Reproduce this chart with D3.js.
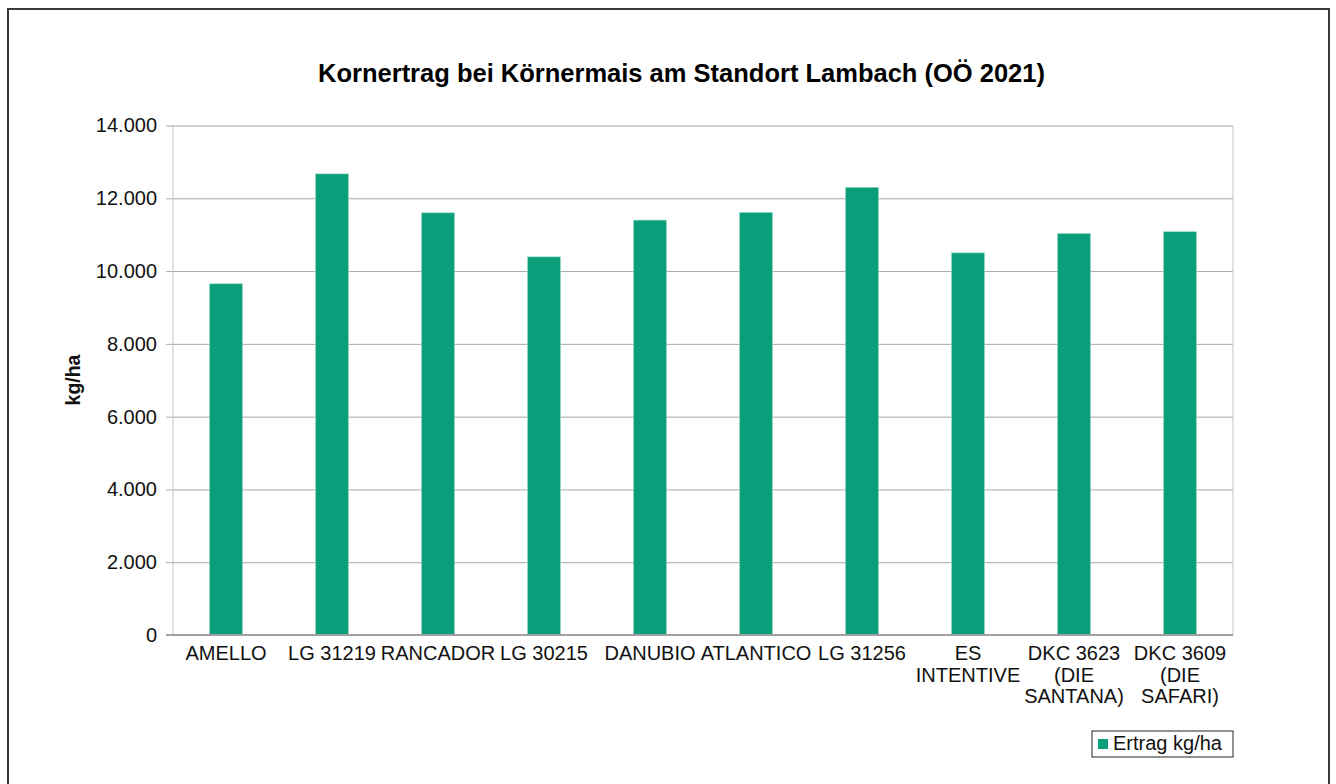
<!DOCTYPE html>
<html>
<head>
<meta charset="utf-8">
<script src="https://cdn.jsdelivr.net/npm/d3@7"></script>
<style>
  body { margin: 0; background: #fff; }
  svg { display: block; font-family: "Liberation Sans", Arial, sans-serif; }
</style>
</head>
<body>
<svg width="1336" height="784"></svg>
<script>
// values
var sorten = [
  ['AMELLO'], ['LG 31219'], ['RANCADOR'], ['LG 30215'], ['DANUBIO'],
  ['ATLANTICO'], ['LG 31256'], ['ES', 'INTENTIVE'],
  ['DKC 3623', '(DIE', 'SANTANA)'], ['DKC 3609', '(DIE', 'SAFARI)']
]
var ertrag = [9650, 12670, 11600, 10390, 11400, 11610, 12300, 10500, 11030, 11080]
var yTicks = [0, 2000, 4000, 6000, 8000, 10000, 12000, 14000]

var svg = d3.select('svg')
var margin = { top: 125.5, right: 103, bottom: 149, left: 173 }
var width = Number(svg.attr('width')) - margin.left - margin.right
var height = Number(svg.attr('height')) - margin.top - margin.bottom

// outer frame
svg.append('rect')
  .attr('x', 8).attr('y', 9)
  .attr('width', 1321).attr('height', 790)
  .attr('fill', 'none')
  .attr('stroke', '#3a3a3a')
  .attr('stroke-width', 2)

svg.append('text')
  .attr('x', 681.5).attr('y', 82)
  .attr('text-anchor', 'middle')
  .attr('font-size', 25.5)
  .attr('font-weight', 'bold')
  .attr('fill', '#000')
  .text('Kornertrag bei Körnermais am Standort Lambach (OÖ 2021)')

var g = svg.append('g')
  .attr('transform', 'translate(' + margin.left + ',' + margin.top + ')')

var x = d3.scaleBand()
  .domain(d3.range(ertrag.length))
  .range([0, width])
  .paddingInner(0.69)
  .paddingOuter(0.345)
var y = d3.scaleLinear().domain([0, 14000]).range([height, 0])

var fmt = function (d) { return d === 0 ? '0' : d3.format(',')(d).replace(/,/g, '.') }

// grid + y axis
var ya = g.append('g')
  .call(d3.axisLeft(y).tickValues(yTicks).tickFormat(fmt).tickSize(-width - 7).tickPadding(9))
ya.select('.domain').remove()
ya.selectAll('.tick line')
  .attr('x1', -7)
  .attr('x2', width)
  .attr('stroke', '#a8a8a8')
ya.selectAll('.tick text')
  .attr('x', -16)
  .attr('font-size', 20)
  .attr('fill', '#111')
  .attr('font-family', '"Liberation Sans", Arial, sans-serif')

// plot border (left/right light)
g.append('line').attr('x1', 0).attr('x2', 0).attr('y1', 0).attr('y2', height)
  .attr('stroke', '#c4c4c4')
g.append('line').attr('x1', width).attr('x2', width).attr('y1', 0).attr('y2', height)
  .attr('stroke', '#c4c4c4')

g.selectAll('rect.bar')
  .data(ertrag)
  .enter().append('rect')
  .attr('class', 'bar')
  .attr('x', function (d, i) { return x(i) })
  .attr('y', function (d) { return y(d) })
  .attr('width', x.bandwidth())
  .attr('height', function (d) { return height - y(d) })
  .attr('fill', '#0c9d7b')
  .attr('stroke', '#8fd9c5')
  .attr('stroke-width', 0.6)

// baseline
g.append('line').attr('x1', -7).attr('x2', width).attr('y1', height).attr('y2', height)
  .attr('stroke', '#a0a0a0').attr('stroke-width', 2)

// category labels
var labels = g.selectAll('text.cat')
  .data(sorten)
  .enter().append('text')
  .attr('class', 'cat')
  .attr('text-anchor', 'middle')
  .attr('font-size', 20)
  .attr('fill', '#111')
  .attr('transform', function (d, i) { return 'translate(' + (x(i) + x.bandwidth() / 2) + ',' + (height + 25) + ')' })
labels.selectAll('tspan')
  .data(function (d) { return d })
  .enter().append('tspan')
  .attr('x', 0)
  .attr('dy', function (d, i) { return i === 0 ? 0 : 21.5 })
  .text(function (d) { return d })

// y title
svg.append('text')
  .attr('transform', 'translate(80,380) rotate(-90)')
  .attr('text-anchor', 'middle')
  .attr('font-size', 19.5)
  .attr('font-weight', 'bold')
  .attr('fill', '#111')
  .text('kg/ha')

// legend
var lg = svg.append('g').attr('transform', 'translate(1092,731)')
lg.append('rect').attr('width', 141).attr('height', 26)
  .attr('fill', '#fff').attr('stroke', '#222').attr('stroke-width', 1)
lg.append('rect').attr('x', 6).attr('y', 8).attr('width', 10).attr('height', 10)
  .attr('fill', '#0c9d7b')
lg.append('text').attr('x', 21).attr('y', 19)
  .attr('font-size', 20).attr('fill', '#111')
  .text('Ertrag kg/ha')
</script>
</body>
</html>
